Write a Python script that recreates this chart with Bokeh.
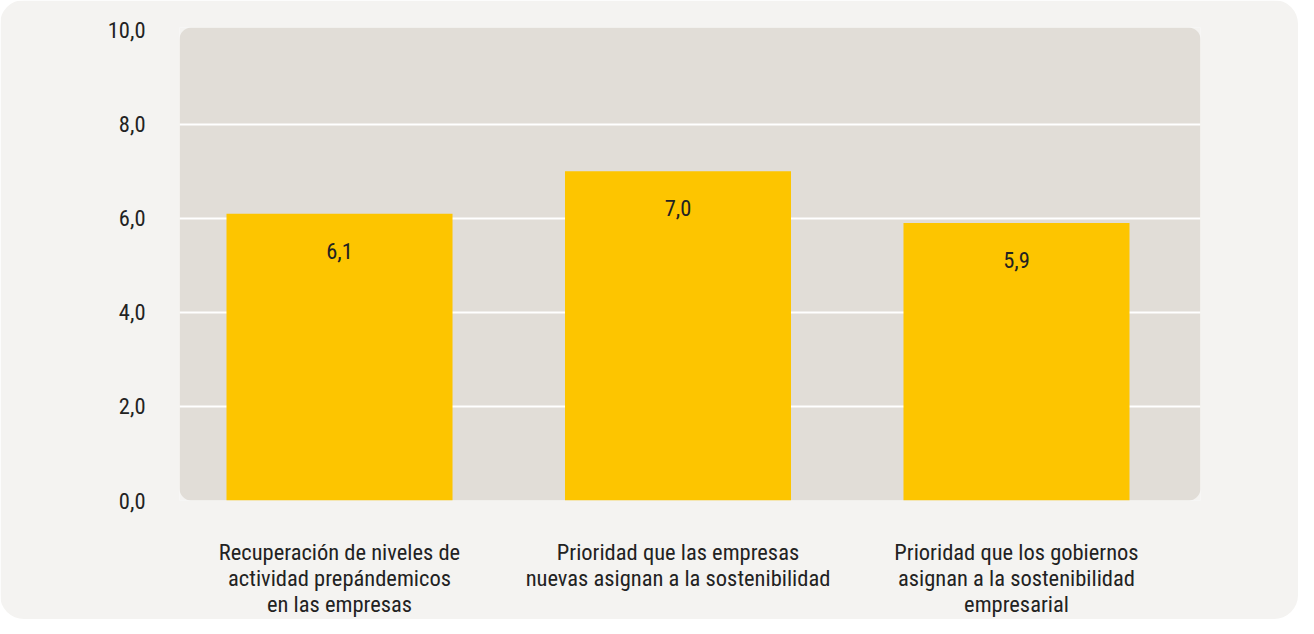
from bokeh.plotting import figure
from bokeh.models import Range1d, FixedTicker, ColumnDataSource
from bokeh.core.properties import value
from bokeh.embed import file_html
from bokeh.resources import INLINE

categories = [
    "Recuperación de niveles de\nactividad prepándemicos\nen las empresas",
    "Prioridad que las empresas\nnuevas asignan a la sostenibilidad",
    "Prioridad que los gobiernos\nasignan a la sostenibilidad\nempresarial",
]
values = [6.1, 7.0, 5.9]
y_ticks = [0, 2, 4, 6, 8, 10]
y_tick_labels = ["0,0", "2,0", "4,0", "6,0", "8,0", "10,0"]

FONT = "'Roboto Condensed', 'Liberation Sans Narrow', 'DejaVu Sans Condensed', Roboto"
CARD = "#f4f3f1"
PANEL = "#e1ddd7"
BAR = "#fdc500"
TEXT = "#222222"

xs = list(range(len(categories)))
src = ColumnDataSource(dict(
    x=xs, top=values,
    label=[f"{v:.1f}".replace(".", ",") for v in values],
))

X0, X1 = -0.4727, 2.5436
p = figure(
    frame_width=1021, frame_height=473,
    x_range=Range1d(X0, X1), y_range=Range1d(0, 10.06),
    output_backend="svg", toolbar_location=None,
    min_border_left=179, min_border_right=98,
    min_border_top=27, min_border_bottom=118,
)
p.styles = {"border-radius": "24px", "overflow": "hidden"}
p.border_fill_color = CARD
p.background_fill_color = CARD
p.outline_line_color = None

# rounded panel background
p.quad(left=[X0], right=[X1], bottom=[0], top=[10.06],
       fill_color=PANEL, line_color=None, border_radius=12, level="image")

p.vbar(x="x", top="top", width=0.6677, bottom=0, source=src,
       fill_color=BAR, line_color=None)
p.text(x="x", y="top", text="label", source=src, y_offset=37,
       text_align="center", text_baseline="middle",
       text_font=value(FONT), text_font_size="22.5px", text_color=TEXT)

p.xgrid.visible = False
p.ygrid.ticker = FixedTicker(ticks=[2, 4, 6, 8])
p.ygrid.grid_line_color = "white"
p.ygrid.grid_line_width = 2
p.ygrid.level = "underlay"

p.yaxis.ticker = FixedTicker(ticks=y_ticks)
p.yaxis.major_label_overrides = dict(zip(y_ticks, y_tick_labels))
p.xaxis.ticker = FixedTicker(ticks=xs)
p.xaxis.major_label_overrides = dict(zip(xs, categories))

for ax in (p.xaxis, p.yaxis):
    ax.axis_line_color = None
    ax.major_tick_line_color = None
    ax.minor_tick_line_color = None
    ax.major_label_text_font = FONT
    ax.major_label_text_font_size = "22.5px"
    ax.major_label_text_color = TEXT
p.yaxis.major_label_standoff = 28
p.xaxis.major_label_standoff = 32
p.xaxis.major_label_text_align = "center"
p.xaxis.major_label_text_line_height = 1.0

open("out.html", "w").write(file_html(p, INLINE))
